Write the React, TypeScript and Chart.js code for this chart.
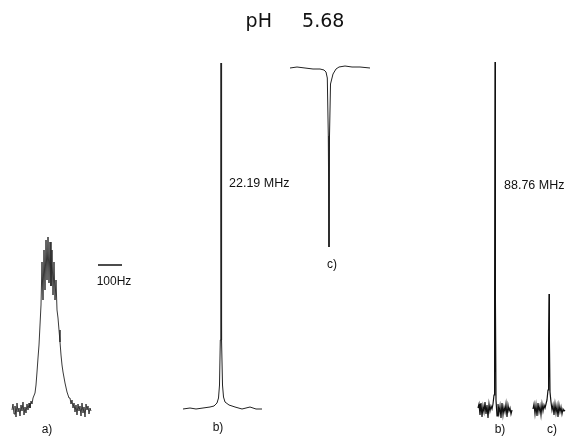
import React, { useEffect, useRef } from "react";
import { Chart, registerables } from "chart.js";

Chart.register(...registerables);

// Spectrum traces: [x position, signal height]
const spectrumA: [number, number][] = [
  [12, 26], [13, 32], [14, 22], [15, 30], [16, 19], [17, 33], [18, 24], [19, 28], [20, 20], [21, 31],
  [22, 25], [23, 34], [24, 21], [25, 29], [26, 23], [27, 32], [28, 26], [29, 33], [30, 28], [31, 35],
  [32, 32], [33, 38], [35, 43], [36, 51], [37, 64], [38, 78], [39, 91], [40, 111], [41, 131],
  [42, 174], [43, 136], [44, 186], [45, 146], [46, 196], [47, 156], [48, 199], [49, 153], [50, 194],
  [51, 150], [52, 186], [53, 141], [54, 174], [55, 136], [56, 156], [57, 126],
  [58, 118], [59, 106], [60, 94], [61, 81], [62, 71], [63, 64], [65, 53], [67, 44], [69, 38],
  [70, 38], [71, 32], [72, 36], [73, 28], [74, 33], [75, 24], [76, 31], [77, 21], [78, 32], [79, 25],
  [80, 30], [81, 20], [82, 33], [83, 23], [84, 29], [85, 19], [86, 32], [87, 26], [88, 30], [89, 22],
  [90, 28], [91, 25],
];

const spectrumB22: [number, number][] = [
  [183, 27], [190, 28], [196, 27], [203, 28], [210, 29], [214, 30], [217, 33], [218.5, 38],
  [219.5, 51], [220.3, 96], [220.8, 236], [221, 373], [221.3, 236], [221.8, 96], [222.5, 51],
  [223.5, 39], [225, 34], [229, 31], [235, 29], [242, 27], [250, 29], [256, 27], [262, 27],
];

const spectrumC22: [number, number][] = [
  [290, 368], [297, 369], [305, 368], [313, 367], [320, 367], [324, 366], [326, 364], [327.3, 358],
  [328.3, 300], [329, 189], [329.5, 300], [330.5, 352], [333, 362], [336, 367], [339, 369],
  [345, 370], [352, 369], [360, 369], [370, 368],
];

const spectrumB88: [number, number][] = [
  [478, 28], [479, 32], [480, 21], [481, 33], [482, 19], [483, 30], [484, 24], [485, 34], [486, 22],
  [487, 31], [488, 18], [489, 32], [490, 25], [491, 30], [492, 27], [493, 32],
  [494, 41], [494.6, 136], [495, 374], [495.4, 136], [496, 36], [497, 20],
  [498, 32], [499, 23], [500, 30], [501, 18], [502, 33], [503, 21], [504, 29], [505, 24], [506, 32],
  [507, 19], [508, 31], [509, 25], [510, 28], [511, 22], [512, 26],
];

const spectrumC88: [number, number][] = [
  [533, 27], [534, 32], [535, 22], [536, 31], [537, 20], [538, 33], [539, 24], [540, 30], [541, 21],
  [542, 32], [543, 25], [544, 31], [545, 28], [546, 32], [547, 36],
  [548, 46], [548.6, 96], [549, 142], [549.4, 96], [550, 44],
  [551, 34], [552, 26], [553, 31], [554, 21], [555, 32], [556, 23], [557, 30], [558, 19], [559, 31],
  [560, 24], [561, 29], [562, 22], [563, 27], [564, 25], [565, 26],
];

// 100 Hz scale bar
const scaleBar: [number, number][] = [[98, 171], [122, 171]];

// Text labels
const titleText = "pH     5.68";
const traceLabels = ["a)", "b)", "c)", "b)", "c)"];
const freqLabels = ["22.19 MHz", "88.76 MHz"];
const scaleLabel = "100Hz";

const toPts = (arr: [number, number][]) => arr.map(([x, y]) => ({ x, y }));

const textPlugin = {
  id: "figureText",
  afterDraw(chart: any) {
    const { ctx, scales } = chart;
    const xs = scales.x;
    const ys = scales.y;
    const put = (t: string, x: number, y: number, size: number, align: CanvasTextAlign, fam: string) => {
      ctx.save();
      ctx.fillStyle = "#111";
      ctx.font = `${size}px ${fam}`;
      ctx.textAlign = align;
      ctx.textBaseline = "middle";
      ctx.fillText(t, xs.getPixelForValue(x), ys.getPixelForValue(y));
      ctx.restore();
    };
    const sans = `"Liberation Sans", Arial, sans-serif`;
    put(titleText, 295, 414, 19, "center", `"DejaVu Sans", sans-serif`);
    put(scaleLabel, 114, 154, 12, "center", sans);
    put(freqLabels[0], 229, 252, 12.5, "left", sans);
    put(freqLabels[1], 504, 250, 12.5, "left", sans);
    put(traceLabels[2], 332, 171, 12, "center", sans);
    put(traceLabels[0], 47, 6, 12, "center", sans);
    put(traceLabels[1], 218, 8, 12, "center", sans);
    put(traceLabels[3], 500, 6, 12, "center", sans);
    put(traceLabels[4], 552, 6, 12, "center", sans);
  },
};

export default function App() {
  const ref = useRef<HTMLCanvasElement>(null);
  useEffect(() => {
    document.body.style.margin = "0";
    const ds = (data: [number, number][], w: number, c: string) => ({
      data: toPts(data),
      borderColor: c,
      borderWidth: w,
      pointRadius: 0,
      tension: 0,
      fill: false,
    });
    const chart = new Chart(ref.current!, {
      type: "line",
      data: {
        datasets: [
          ds(spectrumA, 0.9, "#222"),
          ds(spectrumB22, 1, "#222"),
          ds(spectrumC22, 1, "#222"),
          ds(spectrumB88, 1.2, "#111"),
          ds(spectrumC88, 1.2, "#111"),
          ds(scaleBar, 1.5, "#111"),
        ],
      },
      options: {
        animation: false,
        responsive: false,
        maintainAspectRatio: false,
        layout: { padding: 0 },
        plugins: { legend: { display: false }, tooltip: { enabled: false }, title: { display: false } },
        scales: {
          x: { type: "linear", min: 0, max: 579, display: false },
          y: { type: "linear", min: 0, max: 436, display: false },
        },
      },
      plugins: [textPlugin],
    });
    return () => chart.destroy();
  }, []);
  return (
    <div style={{ width: 579, height: 436, background: "#fff" }}>
      <canvas ref={ref} width={579} height={436} />
    </div>
  );
}
